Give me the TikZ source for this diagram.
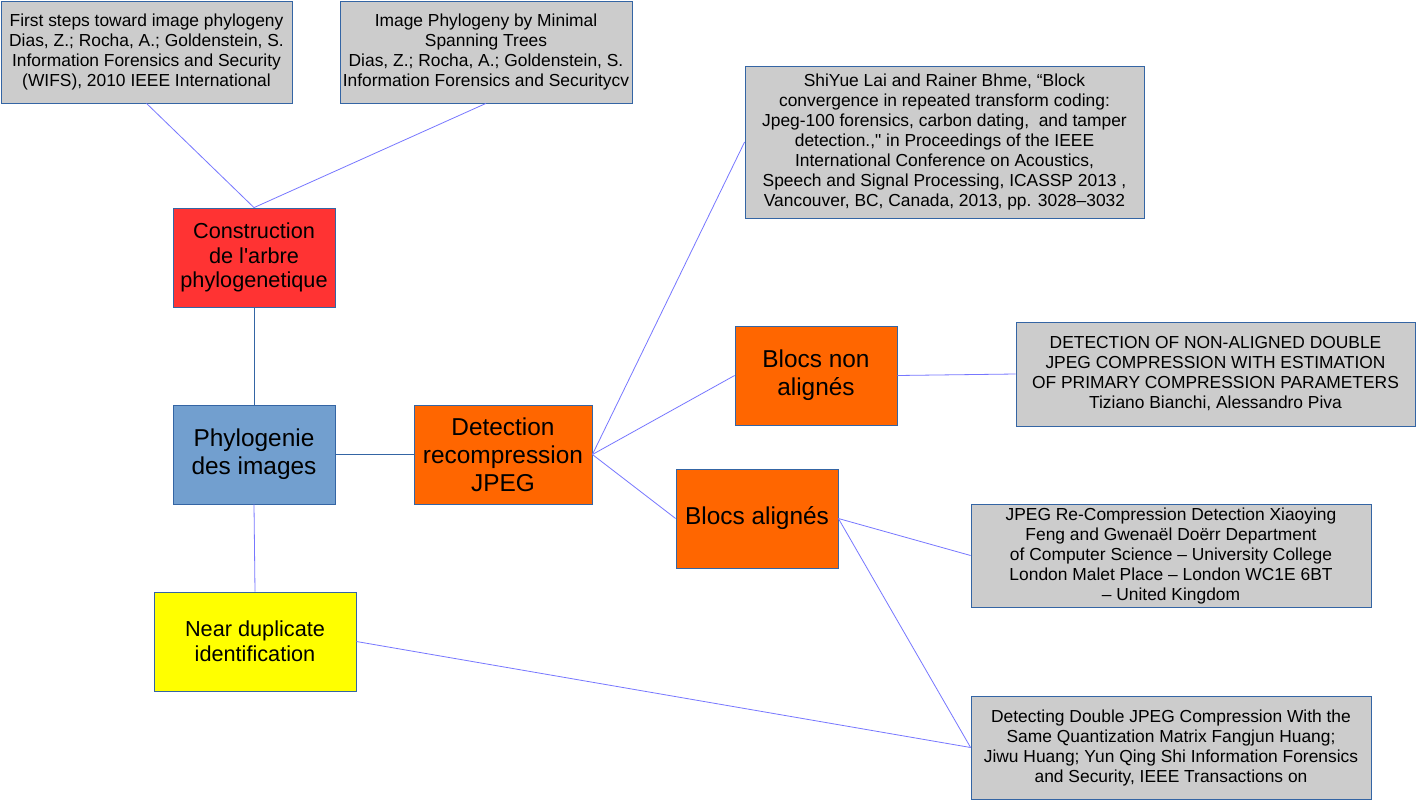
\documentclass[tikz,border=0pt]{standalone}
\usepackage{fontspec}
\setmainfont{Liberation Sans}
\definecolor{bord}{HTML}{3465A4}
\definecolor{lite}{HTML}{7777FF}
\definecolor{grayfill}{HTML}{CCCCCC}
\definecolor{redfill}{HTML}{FF3333}
\definecolor{bluefill}{HTML}{729FCF}
\definecolor{orangefill}{HTML}{FF6600}
\definecolor{yellowfill}{HTML}{FFFF00}
\begin{document}
\begin{tikzpicture}[x=1pt,y=-1pt,
  box/.style={draw=bord, line width=0.8pt, inner sep=0pt, align=center, anchor=center},
  gbox/.style={box, fill=grayfill, font=\fontsize{17.4}{20}\selectfont},
  cbox/.style={box, font=\fontsize{21.7}{24.6}\selectfont},
  bbox/.style={box, font=\fontsize{24.4}{27.8}\selectfont},
  dark/.style={draw=bord, line width=0.8pt},
  light/.style={draw=lite, line width=0.8pt}]
\useasboundingbox (0,0) rectangle (1416,800);
\fill[white] (0,0) rectangle (1416,800);

\node[gbox, minimum width=291pt, minimum height=102pt] (b1) at (146.5,52)
  {First steps toward image phylogeny\\Dias, Z.; Rocha, A.; Goldenstein, S.\\Information Forensics and Security\\(WIFS), 2010 IEEE International};
\node[gbox, minimum width=292pt, minimum height=102pt] (b2) at (486,52)
  {Image Phylogeny by Minimal\\Spanning Trees\\Dias, Z.; Rocha, A.; Goldenstein, S.\\Information Forensics and Securitycv};
\node[cbox, fill=redfill, minimum width=162pt, minimum height=99pt] (con) at (254,257.5)
  {Construction\\de l\textquotesingle arbre\\phylogenetique};
\node[bbox, fill=bluefill, minimum width=162pt, minimum height=99pt] (phy) at (254,454.5)
  {Phylogenie\\des images};
\node[bbox, fill=orangefill, minimum width=178pt, minimum height=99pt] (det) at (503,454.5)
  {Detection\\recompression\\JPEG};
\node[gbox, minimum width=399pt, minimum height=152pt] (shi) at (944.5,142)
  {ShiYue Lai and Rainer Bhme, “Block\\convergence in repeated transform coding:\\Jpeg-100 forensics, carbon dating,\ \ and tamper\\detection.,\textquotedbl\ in Proceedings of the IEEE\\International Conference on Acoustics,\\Speech and Signal Processing, ICASSP 2013 ,\\Vancouver, BC, Canada, 2013, pp. 3028–3032};
\node[bbox, fill=orangefill, minimum width=162pt, minimum height=99pt] (bna) at (816,375.5)
  {Blocs non\\alignés};
\node[gbox, minimum width=399pt, minimum height=104pt] (dna) at (1215.5,374)
  {DETECTION OF NON-ALIGNED DOUBLE\\JPEG COMPRESSION WITH ESTIMATION\\OF PRIMARY COMPRESSION PARAMETERS\\Tiziano Bianchi, Alessandro Piva};
\node[bbox, fill=orangefill, minimum width=162pt, minimum height=99pt] (ba) at (757,518.5)
  {Blocs alignés};
\node[gbox, minimum width=400pt, minimum height=103pt] (jrc) at (1171,555.5)
  {JPEG Re-Compression Detection Xiaoying\\Feng and Gwenaël Doërr Department\\of Computer Science – University College\\London Malet Place – London WC1E 6BT\\– United Kingdom};
\node[cbox, fill=yellowfill, minimum width=202pt, minimum height=99pt] (nd) at (255,641.5)
  {Near duplicate\\identification};
\node[gbox, minimum width=400pt, minimum height=103pt] (ddj) at (1171,747.5)
  {Detecting Double JPEG Compression With the\\Same Quantization Matrix Fangjun Huang;\\Jiwu Huang; Yun Qing Shi Information Forensics\\and Security, IEEE Transactions on};

\draw[light] (b1.south) -- (con.north);
\draw[light] (b2.south) -- (con.north);
\draw[dark] (con.south) -- (phy.north);
\draw[dark] (phy.east) -- (det.west);
\draw[light] (phy.south) -- (nd.north);
\draw[light] (det.east) -- (shi.west);
\draw[light] (det.east) -- (bna.west);
\draw[light] (det.east) -- (ba.west);
\draw[light] (bna.east) -- (dna.west);
\draw[light] (ba.east) -- (jrc.west);
\draw[light] (ba.east) -- (ddj.west);
\draw[light] (nd.east) -- (ddj.west);
\end{tikzpicture}
\end{document}
